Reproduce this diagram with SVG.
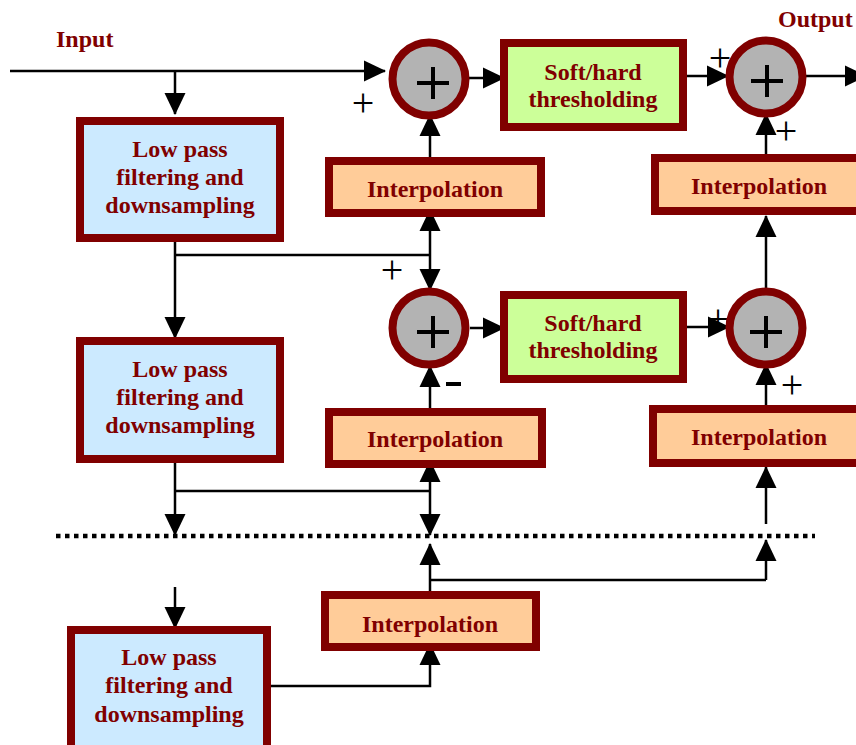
<svg xmlns="http://www.w3.org/2000/svg" width="856" height="745" viewBox="0 0 856 745">
<defs>
<style>
.lbl{font-family:"Liberation Serif","Times New Roman",serif;font-weight:bold;font-size:24px;fill:#800000;text-anchor:middle}
.lpf{fill:#cceaff;stroke:#800000;stroke-width:8}
.soft{fill:#ccff99;stroke:#800000;stroke-width:8}
.intp{fill:#ffcc99;stroke:#800000;stroke-width:8}
.sum{fill:#b3b3b3;stroke:#800000;stroke-width:8}
.plus{stroke:#000;stroke-width:4;fill:none}
.sign{font-family:"Liberation Serif","Times New Roman",serif;font-size:40px;fill:#000;text-anchor:middle}
.wire{stroke:#000;stroke-width:2.5;fill:none}
.arr{marker-end:url(#ah)}
</style>
<marker id="ah" markerUnits="userSpaceOnUse" markerWidth="22" markerHeight="22" viewBox="0 0 22 22" refX="21" refY="11" orient="auto">
<path d="M0,0.5 L22,11 L0,21.5 z" fill="#000"/>
</marker>
</defs>
<rect width="856" height="745" fill="#fff"/>

<text x="56" y="47" class="lbl" style="text-anchor:start">Input</text>
<text x="778" y="27" class="lbl" style="text-anchor:start">Output</text>

<g id="signs">
<text class="sign" x="363" y="116">+</text>
<text class="sign" x="392" y="283">+</text>
<text class="sign" x="720" y="71">+</text>
<text class="sign" x="786" y="144">+</text>
<text class="sign" x="792" y="398">+</text>
<text class="sign" x="718" y="332">+</text>
<rect x="446" y="382" width="15" height="4" fill="#000"/>
</g>

<g id="connectors">
<path class="wire arr" d="M10,71 H385"/>
<path class="wire arr" d="M175,71 V114"/>
<path class="wire arr" d="M469,78 H504"/>
<path class="wire arr" d="M430,157 V115"/>
<path class="wire arr" d="M175,242 V338"/>
<path class="wire" d="M175,255 H430"/>
<path class="wire arr" d="M430,255 V210"/>
<path class="wire arr" d="M430,255 V290"/>
<path class="wire arr" d="M470,328 H504"/>
<path class="wire arr" d="M430,408 V366"/>
<path class="wire arr" d="M175,463 V535"/>
<path class="wire" d="M175,491 H430"/>
<path class="wire arr" d="M430,491 V461"/>
<path class="wire arr" d="M430,491 V535"/>
<path class="wire arr" d="M686,76 H728"/>
<path class="wire arr" d="M806,76 H866"/>
<path class="wire arr" d="M766,154 V114"/>
<path class="wire arr" d="M766,289 V216"/>
<path class="wire arr" d="M686,327 H729"/>
<path class="wire arr" d="M766,405 V364"/>
<path class="wire arr" d="M766,524 V467"/>
<path class="wire arr" d="M430,591 V544"/>
<path class="wire" d="M430,580 H766"/>
<path class="wire arr" d="M766,580 V540"/>
<path class="wire arr" d="M175,587 V628"/>
<path class="wire arr" d="M271,686 H430 V644"/>
<path d="M56,536 H815" stroke="#000" stroke-width="4.5" stroke-dasharray="4.5 4.5" fill="none"/>
</g>

<g id="lpf1"><rect class="lpf" x="80" y="121" width="200" height="117"/>
<text class="lbl" x="180" y="157">Low pass</text><text class="lbl" x="180" y="185">filtering and</text><text class="lbl" x="180" y="213">downsampling</text></g>
<g id="lpf2"><rect class="lpf" x="80" y="341" width="200" height="118"/>
<text class="lbl" x="180" y="377">Low pass</text><text class="lbl" x="180" y="405">filtering and</text><text class="lbl" x="180" y="433">downsampling</text></g>
<g id="lpf3"><rect class="lpf" x="71" y="630" width="196" height="125"/>
<text class="lbl" x="169" y="665">Low pass</text><text class="lbl" x="169" y="693">filtering and</text><text class="lbl" x="169" y="722">downsampling</text></g>

<g id="sum1"><circle class="sum" cx="429" cy="79" r="36.5"/><path class="plus" d="M417,83 H449 M433,67 V99"/></g>
<g id="sum2"><circle class="sum" cx="429" cy="328" r="36.5"/><path class="plus" d="M417,332 H449 M433,316 V348"/></g>
<g id="sum3"><circle class="sum" cx="766" cy="77" r="36.5"/><path class="plus" d="M751,81 H783 M767,65 V97"/></g>
<g id="sum4"><circle class="sum" cx="766" cy="328" r="36.5"/><path class="plus" d="M750,332 H782 M766,316 V348"/></g>

<g id="soft1"><rect class="soft" x="504" y="43" width="179" height="84"/>
<text class="lbl" x="593" y="80">Soft/hard</text><text class="lbl" x="593" y="107">thresholding</text></g>
<g id="soft2"><rect class="soft" x="504" y="295" width="179" height="84"/>
<text class="lbl" x="593" y="331">Soft/hard</text><text class="lbl" x="593" y="358">thresholding</text></g>

<g id="interp1"><rect class="intp" x="329" y="161" width="212" height="52"/><text class="lbl" x="435" y="197">Interpolation</text></g>
<g id="interp2"><rect class="intp" x="329" y="412" width="213" height="52"/><text class="lbl" x="435" y="447">Interpolation</text></g>
<g id="interp3"><rect class="intp" x="655" y="158" width="210" height="53"/><text class="lbl" x="759" y="194">Interpolation</text></g>
<g id="interp4"><rect class="intp" x="653" y="409" width="210" height="54"/><text class="lbl" x="759" y="445">Interpolation</text></g>
<g id="interp5"><rect class="intp" x="325" y="595" width="211" height="52"/><text class="lbl" x="430" y="632">Interpolation</text></g>
</svg>
